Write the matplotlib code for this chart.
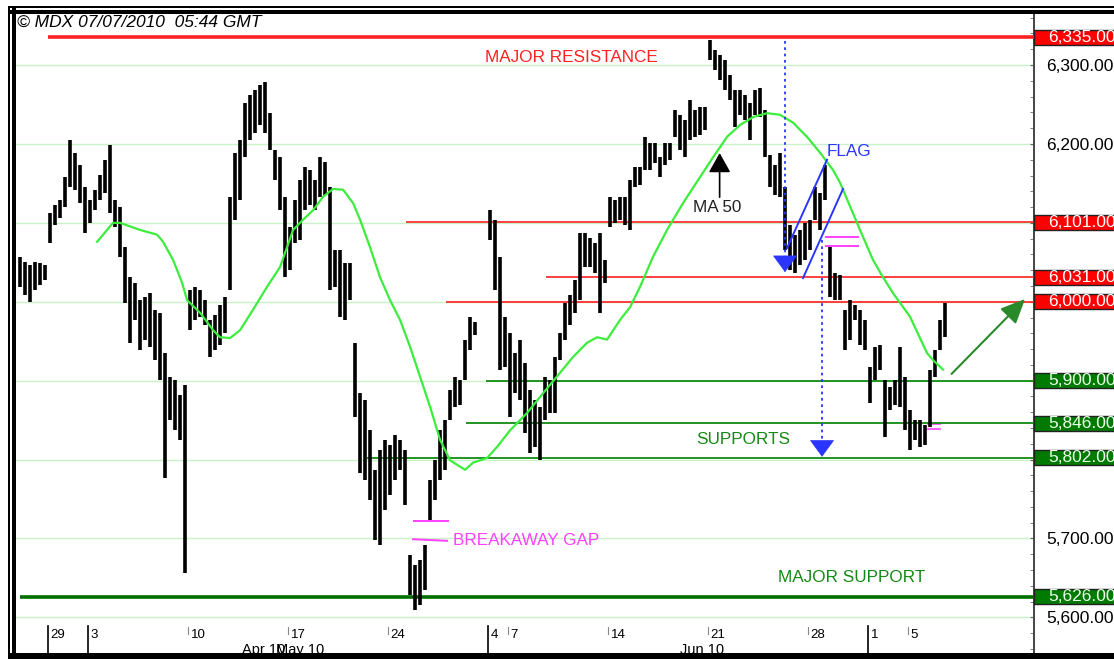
#!/usr/bin/env python3
"""MDX hourly bars, late Apr - 7 Jul 2010, with hand-drawn support / resistance."""

import matplotlib
matplotlib.use("Agg")
import matplotlib.pyplot as plt
from matplotlib.patches import Rectangle

plt.rcParams["font.family"] = ["Liberation Sans", "DejaVu Sans"]

W_PX, H_PX = 1114, 659

# x = trading-session index (0 = Thu 29 Apr 2010), four bars per session.
# Session -2 (27 Apr) only shows its last two bars, session 21 (28 May) its first two.
SESSION_DAYS = list(range(-2, 45))
FIRST_SLOT = {-2: 2}
HIGHS = [
    [6057, 6050],
    [6046, 6050, 6049, 6046],
    [6112, 6123, 6129, 6158],
    [6205, 6188, 6173, 6145],
    [6129, 6142, 6161, 6180],
    [6199, 6129, 6120, 6069],
    [6031, 6024, 6002, 6006],
    [6011, 5990, 5986, 5935],
    [5905, 5901, 5882, 5895],
    [6015, 6019, 6015, 6002],
    [5977, 5983, 5996, 6006],
    [6133, 6189, 6205, 6252],
    [6262, 6268, 6275, 6279],
    [6239, 6192, 6183, 6133],
    [6095, 6129, 6154, 6171],
    [6167, 6154, 6183, 6177],
    [6145, 6066, 6066, 6049],
    [6049, 5948, 5884, 5875],
    [5837, 5787, 5812, 5825],
    [5818, 5831, 5825, 5812],
    [5679, 5666, 5673, 5692],
    [5774, 5799, 5837, 5850],
    [5888, 5905, 5901, 5952],
    [5981, 5974],
    [6116, 6104, 6057, 5981],
    [5960, 5935, 5952, 5922],
    [5888, 5875, 5867, 5905],
    [5901, 5930, 5960, 5998],
    [6009, 6028, 6087, 6087],
    [6081, 6074, 6087, 6053],
    [6133, 6129, 6133, 6133],
    [6154, 6171, 6171, 6209],
    [6201, 6201, 6183, 6201],
    [6201, 6243, 6237, 6230],
    [6256, 6243, 6247, 6247],
    [6332, 6319, 6313, 6306],
    [6287, 6268, 6268, 6262],
    [6252, 6268, 6271, 6243],
    [6186, 6173, 6189, 6145],
    [6097, 6085, 6091, 6100],
    [6104, 6145, 6138, 6173],
    [6069, 6036, 6034, 5990],
    [6002, 5996, 5990, 5977],
    [5917, 5943, 5945, 5901],
    [5892, 5901, 5943, 5905],
    [5863, 5850, 5850, 5844],
    [5914, 5939, 5977, 5998],
]
LOWS = [
    [6019, 6008],
    [6000, 6015, 6021, 6027],
    [6074, 6097, 6106, 6120],
    [6145, 6142, 6125, 6087],
    [6100, 6116, 6129, 6138],
    [6112, 6095, 6057, 5998],
    [5948, 5977, 5939, 5952],
    [5943, 5926, 5901, 5777],
    [5850, 5837, 5825, 5656],
    [5964, 5977, 5981, 5971],
    [5930, 5939, 5945, 5960],
    [6015, 6104, 6129, 6183],
    [6205, 6214, 6224, 6214],
    [6192, 6154, 6116, 6031],
    [6040, 6074, 6078, 6116],
    [6123, 6116, 6133, 6135],
    [6015, 6019, 5981, 5977],
    [6002, 5854, 5783, 5774],
    [5749, 5698, 5692, 5736],
    [5755, 5774, 5787, 5742],
    [5628, 5609, 5616, 5635],
    [5723, 5749, 5774, 5787],
    [5850, 5867, 5869, 5901],
    [5939, 5958],
    [6078, 6015, 5914, 5917],
    [5854, 5884, 5875, 5834],
    [5808, 5816, 5799, 5850],
    [5859, 5859, 5926, 5952],
    [5971, 5986, 6002, 6044],
    [6044, 6036, 5986, 6024],
    [6095, 6100, 6104, 6097],
    [6091, 6145, 6148, 6167],
    [6167, 6176, 6158, 6173],
    [6180, 6209, 6192, 6183],
    [6205, 6209, 6211, 6218],
    [6306, 6294, 6281, 6268],
    [6256, 6221, 6237, 6230],
    [6205, 6237, 6234, 6183],
    [6145, 6135, 6133, 6066],
    [6040, 6036, 6047, 6053],
    [6066, 6104, 6091, 6129],
    [6006, 6002, 6002, 5939],
    [5952, 5977, 5945, 5939],
    [5872, 5901, 5914, 5829],
    [5863, 5869, 5867, 5837],
    [5812, 5825, 5816, 5818],
    [5841, 5905, 5939, 5955],
]

# 50-period moving average
MA50_DAYS = [2.47, 3.27, 3.62, 4.62, 5.47, 5.77, 6.27, 6.72, 6.97, 7.62, 8.27, 8.62,
             9.12, 9.62, 10.27, 10.97, 11.62, 12.27, 12.77, 13.27, 13.77, 14.27,
             14.77, 15.27, 15.62, 16.12, 16.62, 17.12, 17.62, 18.12, 18.62, 19.12,
             19.62, 20.12, 20.87, 21.27, 21.97, 22.47, 23.12, 23.97, 24.77, 25.62,
             26.27, 26.97, 27.47, 27.97, 28.62, 29.12, 29.62, 30.27, 30.97, 31.77,
             32.62, 33.27, 33.97, 34.62, 35.27, 35.97, 36.62, 37.27, 37.97, 38.62,
             39.27, 39.62, 40.62, 41.27, 41.77, 42.27, 43.12, 43.97, 44.27, 44.77]
MA50_VALUES = [6076, 6100, 6100, 6091, 6085, 6076, 6053, 6024, 6002, 5986, 5964, 5955,
               5954, 5964, 5990, 6019, 6044, 6091, 6104, 6116, 6133, 6143,
               6142, 6125, 6104, 6069, 6031, 6002, 5977, 5943, 5905, 5867,
               5825, 5799, 5787, 5796, 5802, 5816, 5837, 5859, 5884, 5910,
               5930, 5948, 5955, 5952, 5977, 5993, 6019, 6057, 6091, 6125,
               6158, 6183, 6209, 6224, 6234, 6239, 6237, 6227, 6209, 6189,
               6167, 6151, 6091, 6053, 6031, 6011, 5981, 5935, 5926, 5914]

# drawn levels and the session where each line starts
RESISTANCE = [6335, 6101, 6031, 6000]
RESISTANCE_FROM = [0.0, 17.9, 24.9, 19.9]
SUPPORT = [5900, 5846, 5802, 5626]
SUPPORT_FROM = [21.9, 20.9, 15.96, -1.4]

PRICE_TICKS = list(range(5600, 6400, 100))
HIDDEN_PRICE_LABELS = [5800, 5900, 6000, 6100]   # sit under the level boxes

TICK_DAYS = [0, 2, 7, 12, 17, 22, 23, 28, 33, 38, 41, 43]
TICK_LABELS = ["29", "3", "10", "17", "24", "4", "7", "14", "21", "28", "1", "5"]
MONTH_START = [0, 2, 22, 41]
MONTH_LABELS = ["Apr 10", "May 10", "Jun 10"]
MONTH_AT = [9.7, 11.4, 31.6]

RED = "#ff2020"
GREEN = "#138a13"
DARK_GREEN = "#006f00"
MA_GREEN = "#3ded3d"
BLUE = "#2a36ff"
MAGENTA = "#ff40ff"
NOTE_SIZE = 12.3


def px_box(fig, x0, y0, x1, y1):
    """Black frame piece given in image pixels."""
    fig.add_artist(Rectangle((x0 / W_PX, 1 - y1 / H_PX), (x1 - x0) / W_PX,
                             (y1 - y0) / H_PX, transform=fig.transFigure,
                             facecolor="black", edgecolor="none", zorder=10))


def main() -> None:
    fig = plt.figure(figsize=(W_PX / 100, H_PX / 100), dpi=100)
    ax = fig.add_axes([16 / W_PX, 6 / H_PX, 1018 / W_PX, 639 / H_PX])
    ax.set_xlim(-1.585, 49.32)
    ax.set_ylim(5554.8, 6364.7)

    for s in ("left", "top", "bottom"):
        ax.spines[s].set_visible(False)
    ax.spines["right"].set_color("#444444")
    ax.spines["right"].set_linewidth(1.4)

    # price axis on the right
    ax.yaxis.tick_right()
    ax.set_yticks(PRICE_TICKS)
    ax.set_yticklabels(["" if v in HIDDEN_PRICE_LABELS else f"{v:,.2f}" for v in PRICE_TICKS])
    ax.set_yticks(range(5560, 6380, 20), minor=True)
    ax.tick_params(axis="y", which="both", direction="in", length=3,
                   color="#666666", pad=9, labelsize=12.5)
    ax.set_xticks([])
    ax.grid(axis="y", which="major", color="#c8f2c8", lw=1)

    # hourly bars
    times, highs, lows = [], [], []
    for day, hs, ls in zip(SESSION_DAYS, HIGHS, LOWS):
        first = FIRST_SLOT.get(day, 0)
        for k, (h, l) in enumerate(zip(hs, ls)):
            times.append(day + (first + k + 0.5) / 4)
            highs.append(h)
            lows.append(l)
    ax.vlines(times, lows, highs, color="black", lw=2.6, zorder=4)

    ax.plot(MA50_DAYS, MA50_VALUES, color=MA_GREEN, lw=1.6, zorder=5)

    # support / resistance lines
    for lvl, x0 in zip(RESISTANCE, RESISTANCE_FROM):
        ax.hlines(lvl, x0, 49.32, color=RED, lw=2.6 if lvl == 6335 else 1.2, zorder=3)
    for lvl, x0 in zip(SUPPORT, SUPPORT_FROM):
        ax.hlines(lvl, x0, 49.32, color=DARK_GREEN if lvl == 5626 else GREEN,
                  lw=2.6 if lvl == 5626 else 1.3, zorder=3)

    # value boxes beyond the price axis
    ytr = ax.get_yaxis_transform()
    for lvl, face, txt in ([(v, "#ff0000", "white") for v in RESISTANCE]
                           + [(v, "#007a00", "#eaffea") for v in SUPPORT]):
        ax.add_patch(Rectangle((1.0, lvl - 9.5), 0.2, 19, transform=ytr, clip_on=False,
                               facecolor=face, edgecolor="#222222", lw=1, zorder=6))
        ax.text(1.0138, lvl, f"{lvl:,.2f}", transform=ytr, color=txt, fontsize=12.5,
                va="center", ha="left", clip_on=False, zorder=7)

    # x axis: session ticks drawn by hand inside the frame
    xtr = ax.get_xaxis_transform()
    for d, lab in zip(TICK_DAYS, TICK_LABELS):
        if d in MONTH_START:
            ax.plot([d, d], [0, 0.042], color="black", lw=1.2, transform=xtr, clip_on=False)
        else:
            ax.plot([d, d], [0.030, 0.041], color="#888888", lw=0.8, transform=xtr)
        ax.text(d + 0.15, 0.028, lab, transform=xtr, fontsize=9.5, va="center", ha="left")
    for lab, d in zip(MONTH_LABELS, MONTH_AT):
        ax.text(d, 0.004, lab, transform=xtr, fontsize=10.5, va="center", ha="left")

    # annotations
    ax.text(26.2, 6310, "MAJOR RESISTANCE", color=RED, fontsize=NOTE_SIZE,
            ha="center", va="center")
    ax.text(34.8, 5825, "SUPPORTS", color=GREEN, fontsize=NOTE_SIZE, ha="center", va="center")
    ax.text(40.2, 5650, "MAJOR SUPPORT", color=GREEN, fontsize=NOTE_SIZE,
            ha="center", va="center")
    ax.text(20.27, 5698, "BREAKAWAY GAP", color=MAGENTA, fontsize=NOTE_SIZE,
            ha="left", va="center")
    ax.text(33.5, 6120, "MA 50", color="#222222", fontsize=NOTE_SIZE, ha="center", va="center")
    ax.text(40.05, 6190, "FLAG", color=BLUE, fontsize=NOTE_SIZE, ha="center", va="center")

    ax.annotate("", xy=(33.6, 6192), xytext=(33.6, 6129),
                arrowprops=dict(arrowstyle="-|>,head_length=0.8,head_width=0.45",
                                color="black", lw=1.2, mutation_scale=15))

    # breakaway gap and flag break markers
    ax.plot([18.3, 20.0], [5722, 5722], color=MAGENTA, lw=1.4)
    ax.plot([18.27, 19.97], [5699, 5697], color=MAGENTA, lw=1.4)
    ax.plot([38.9, 40.5], [6082, 6082], color=MAGENTA, lw=1.4)
    ax.plot([38.9, 40.5], [6071, 6071], color=MAGENTA, lw=1.4)
    ax.plot([44.0, 44.6], [5845, 5845], color=MAGENTA, lw=1.2)
    ax.plot([44.0, 44.6], [5839, 5839], color=MAGENTA, lw=1.2)

    # flag channel
    ax.plot([36.97, 38.97], [6068, 6180], color=BLUE, lw=1.4, zorder=6)
    ax.plot([37.77, 39.77], [6030, 6143], color=BLUE, lw=1.4, zorder=6)

    # measured-move projections
    for x, top, tip in [(36.87, 6331, 6034), (38.72, 6078, 5800)]:
        ax.plot([x, x], [top, tip + 8], color=BLUE, lw=1.3, ls=(0, (1.5, 2)), zorder=6)
        ax.annotate("", xy=(x, tip), xytext=(x, tip + 16),
                    arrowprops=dict(arrowstyle="-|>,head_length=0.75,head_width=0.55",
                                    color=BLUE, lw=0.5, mutation_scale=15), zorder=7)

    ax.annotate("", xy=(48.97, 6006), xytext=(45.1, 5906),
                arrowprops=dict(arrowstyle="-|>,head_length=1.0,head_width=0.45",
                                color="#2a8a2a", lw=1.5, mutation_scale=15))

    fig.text(17 / W_PX, 1 - 22 / H_PX, "\u00a9 MDX 07/07/2010  05:44 GMT",
             fontsize=12.5, style="italic", va="center", ha="left")

    # double black frame
    px_box(fig, 8, 6, 10, H_PX)
    px_box(fig, 11.5, 6, 16, H_PX)
    px_box(fig, 8, 6, W_PX, 8)
    px_box(fig, 8, 9.5, W_PX, 14)
    px_box(fig, 8, 653, W_PX, H_PX)

    fig.savefig("out.png", dpi=100)


if __name__ == "__main__":
    main()
